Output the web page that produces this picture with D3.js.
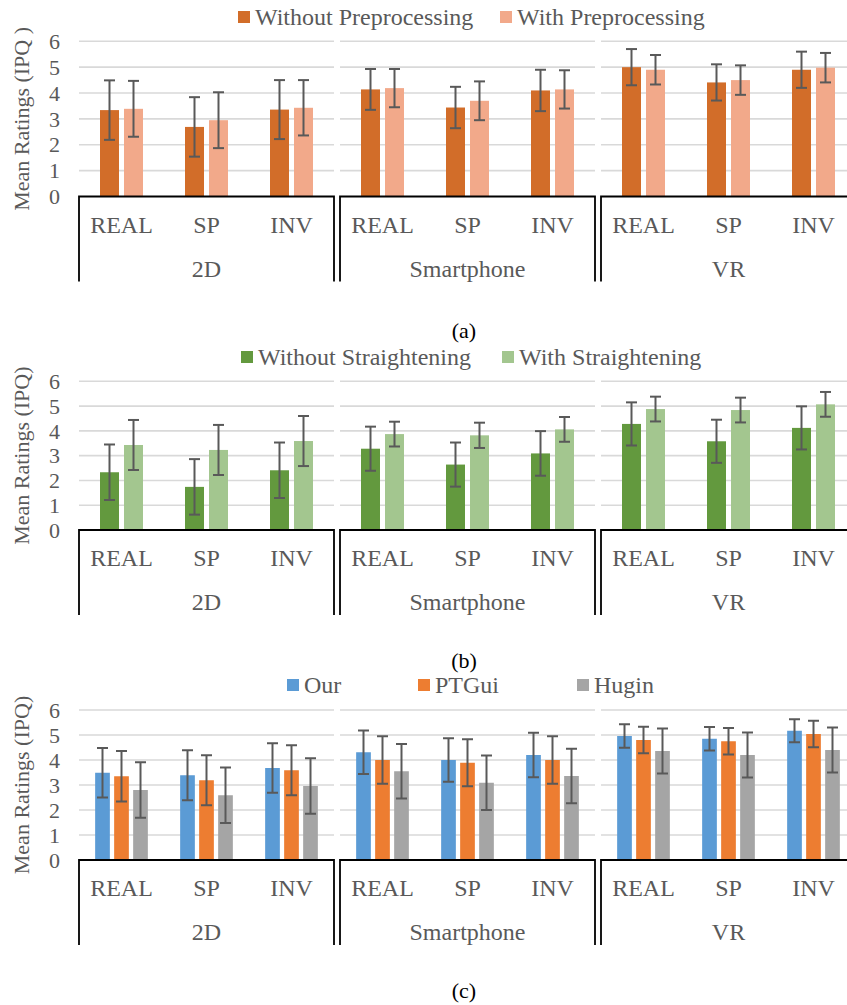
<!DOCTYPE html>
<html>
<head>
<meta charset="utf-8">
<script src="https://cdn.jsdelivr.net/npm/d3@7"></script>
<style>
  html, body { margin: 0; padding: 0; background: #fff; }
  svg { display: block; }
</style>
</head>
<body>
<svg id="fig" width="847" height="1005"></svg>
<script>
// Category structure shared by all three panels
const groups = ["2D", "Smartphone", "VR"];
const conditions = ["REAL", "SP", "INV"];
const yTicks = [0, 1, 2, 3, 4, 5, 6];

// (a) preprocessing
const seriesA = ["Without Preprocessing", "With Preprocessing"];
const meanA_without = [3.34, 2.69, 3.36, 4.14, 3.44, 4.10, 5.00, 4.41, 4.90];
const sdA_without   = [1.15, 1.15, 1.14, 0.79, 0.80, 0.80, 0.70, 0.70, 0.70];
const meanA_with    = [3.39, 2.95, 3.43, 4.19, 3.70, 4.14, 4.90, 4.50, 4.98];
const sdA_with      = [1.08, 1.08, 1.07, 0.74, 0.75, 0.74, 0.57, 0.57, 0.57];

// (b) straightening
const seriesB = ["Without Straightening", "With Straightening"];
const meanB_without = [2.33, 1.74, 2.41, 3.28, 2.64, 3.09, 4.28, 3.58, 4.12];
const sdB_without   = [1.12, 1.12, 1.12, 0.89, 0.89, 0.90, 0.87, 0.87, 0.87];
const meanB_with    = [3.43, 3.23, 3.59, 3.87, 3.82, 4.06, 4.88, 4.84, 5.07];
const sdB_with      = [1.01, 1.01, 1.01, 0.50, 0.51, 0.50, 0.50, 0.50, 0.50];

// (c) stitching methods
const seriesC = ["Our", "PTGui", "Hugin"];
const meanC_our   = [3.49, 3.39, 3.68, 4.31, 4.00, 4.20, 4.96, 4.85, 5.17];
const sdC_our     = [0.99, 1.00, 0.99, 0.87, 0.87, 0.89, 0.47, 0.47, 0.46];
const meanC_ptgui = [3.35, 3.19, 3.59, 4.00, 3.89, 4.00, 4.80, 4.75, 5.04];
const sdC_ptgui   = [1.01, 1.00, 1.00, 0.95, 0.94, 0.95, 0.53, 0.53, 0.53];
const meanC_hugin = [2.80, 2.59, 2.96, 3.55, 3.09, 3.36, 4.36, 4.20, 4.40];
const sdC_hugin   = [1.11, 1.11, 1.11, 1.09, 1.09, 1.09, 0.90, 0.90, 0.90];

const FONT = "Liberation Serif";
const textColor = "#595959";
const svg = d3.select("#fig");

const plotLeft = 79, plotRight = 856;
const xGroup = d3.scaleBand().domain(groups).range([plotLeft, plotRight])
  .paddingInner(6 / 261).paddingOuter(0);
const xCond = d3.scaleBand().domain(conditions).range([0, xGroup.bandwidth()]).padding(0);

// helper: serif label
function label(sel, size, color) {
  return sel.attr("font-family", FONT).attr("font-size", size).attr("fill", color || textColor);
}

function drawPanel(cfg) {
  const g = svg.append("g");
  const y = d3.scaleLinear().domain([0, 6]).range([cfg.y0, cfg.y6]);
  const xSeries = d3.scaleBand().domain(cfg.series).range([0, xCond.bandwidth()])
    .paddingInner(cfg.padIn).paddingOuter(cfg.padOut);

  // gridlines, interrupted between groups
  groups.forEach(grp => {
    g.append("g").selectAll("line").data(yTicks.filter(t => t > 0)).join("line")
      .attr("x1", xGroup(grp)).attr("x2", xGroup(grp) + xGroup.bandwidth())
      .attr("y1", d => y(d)).attr("y2", d => y(d))
      .attr("stroke", "#d9d9d9").attr("stroke-width", 1.6);
  });

  // y tick labels
  g.append("g").selectAll("text").data(yTicks).join("text")
    .attr("x", 60).attr("y", d => y(d)).attr("dy", "0.35em")
    .attr("text-anchor", "end").call(label, 22)
    .text(d => d);

  // y axis title
  g.append("text")
    .attr("transform", `translate(21,${(cfg.y0 + cfg.y6) / 2}) rotate(-90)`)
    .attr("text-anchor", "middle").attr("dy", "0.35em").call(label, 22)
    .text(cfg.yTitle);

  // one row per bar
  const rows = [];
  groups.forEach((grp, gi) => conditions.forEach((cond, ci) => {
    cfg.series.forEach((s, si) => {
      const k = gi * 3 + ci;
      rows.push({grp, cond, s, si, mean: cfg.means[si][k], sd: cfg.sds[si][k]});
    });
  }));
  const xPos = d => xGroup(d.grp) + xCond(d.cond) + xSeries(d.s);

  g.append("g").selectAll("rect").data(rows).join("rect")
    .attr("x", xPos).attr("width", xSeries.bandwidth())
    .attr("y", d => y(d.mean)).attr("height", d => y(0) - y(d.mean))
    .attr("fill", d => cfg.colors[d.si]);

  // error bars (mean ± sd)
  const eb = g.append("g").attr("stroke", "#595959").attr("stroke-width", 2).attr("fill", "none");
  const cx = d => xPos(d) + xSeries.bandwidth() / 2;
  const cap = 5.5;
  eb.selectAll("line.v").data(rows).join("line").attr("class", "v")
    .attr("x1", cx).attr("x2", cx)
    .attr("y1", d => y(d.mean + d.sd)).attr("y2", d => y(d.mean - d.sd));
  eb.selectAll("line.t").data(rows).join("line").attr("class", "t")
    .attr("x1", d => cx(d) - cap).attr("x2", d => cx(d) + cap)
    .attr("y1", d => y(d.mean + d.sd)).attr("y2", d => y(d.mean + d.sd));
  eb.selectAll("line.b").data(rows).join("line").attr("class", "b")
    .attr("x1", d => cx(d) - cap).attr("x2", d => cx(d) + cap)
    .attr("y1", d => y(d.mean - d.sd)).attr("y2", d => y(d.mean - d.sd));

  // multi-level category axis: one bracket per group
  const depth = 85;
  groups.forEach(grp => {
    const x0 = xGroup(grp), x1 = x0 + xGroup.bandwidth();
    g.append("path")
      .attr("d", `M${x0},${cfg.y0 + depth}V${cfg.y0}H${x1}V${cfg.y0 + depth}`)
      .attr("fill", "none").attr("stroke", "#000").attr("stroke-width", 1.8);
    g.append("g").selectAll("text").data(conditions).join("text")
      .attr("x", d => x0 + xCond(d) + xCond.bandwidth() / 2)
      .attr("y", cfg.y0 + 28).attr("dy", "0.35em")
      .attr("text-anchor", "middle").call(label, 24)
      .text(d => d);
    g.append("text")
      .attr("x", (x0 + x1) / 2).attr("y", cfg.y0 + 72).attr("dy", "0.35em")
      .attr("text-anchor", "middle").call(label, 24)
      .text(grp);
  });

  // legend
  const lg = g.append("g");
  cfg.series.forEach((s, i) => {
    const lx = cfg.legendX[i];
    lg.append("rect").attr("x", lx).attr("y", cfg.legendY - 6)
      .attr("width", 12).attr("height", 12).attr("fill", cfg.colors[i]);
    lg.append("text").attr("x", lx + 17).attr("y", cfg.legendY).attr("dy", "0.35em")
      .call(label, 24).text(s);
  });

  // caption
  g.append("text").attr("x", 464).attr("y", cfg.capY).attr("dy", "0.35em")
    .attr("text-anchor", "middle").call(label, 22, "#000")
    .text(cfg.caption);
}

drawPanel({
  series: seriesA, means: [meanA_without, meanA_with], sds: [sdA_without, sdA_with],
  colors: ["#d26d29", "#f2a98a"], y0: 196.5, y6: 41.3,
  legendY: 17, legendX: [238, 500], padIn: 5 / 24, padOut: 0.875,
  yTitle: "Mean Ratings (IPQ )", caption: "(a)", capY: 330
});
drawPanel({
  series: seriesB, means: [meanB_without, meanB_with], sds: [sdB_without, sdB_with],
  colors: ["#63993e", "#a3c68f"], y0: 530, y6: 381.3,
  legendY: 357, legendX: [241, 502], padIn: 5 / 24, padOut: 0.875,
  yTitle: "Mean Ratings (IPQ)", caption: "(b)", capY: 660
});
drawPanel({
  series: seriesC, means: [meanC_our, meanC_ptgui, meanC_hugin], sds: [sdC_our, sdC_ptgui, sdC_hugin],
  colors: ["#5b9bd5", "#ed7d31", "#a5a5a5"], y0: 860, y6: 710,
  legendY: 685, legendX: [287, 418, 577], padIn: 4.3 / 19, padOut: 0.85,
  yTitle: "Mean Ratings (IPQ)", caption: "(c)", capY: 990
});
</script>
</body>
</html>
